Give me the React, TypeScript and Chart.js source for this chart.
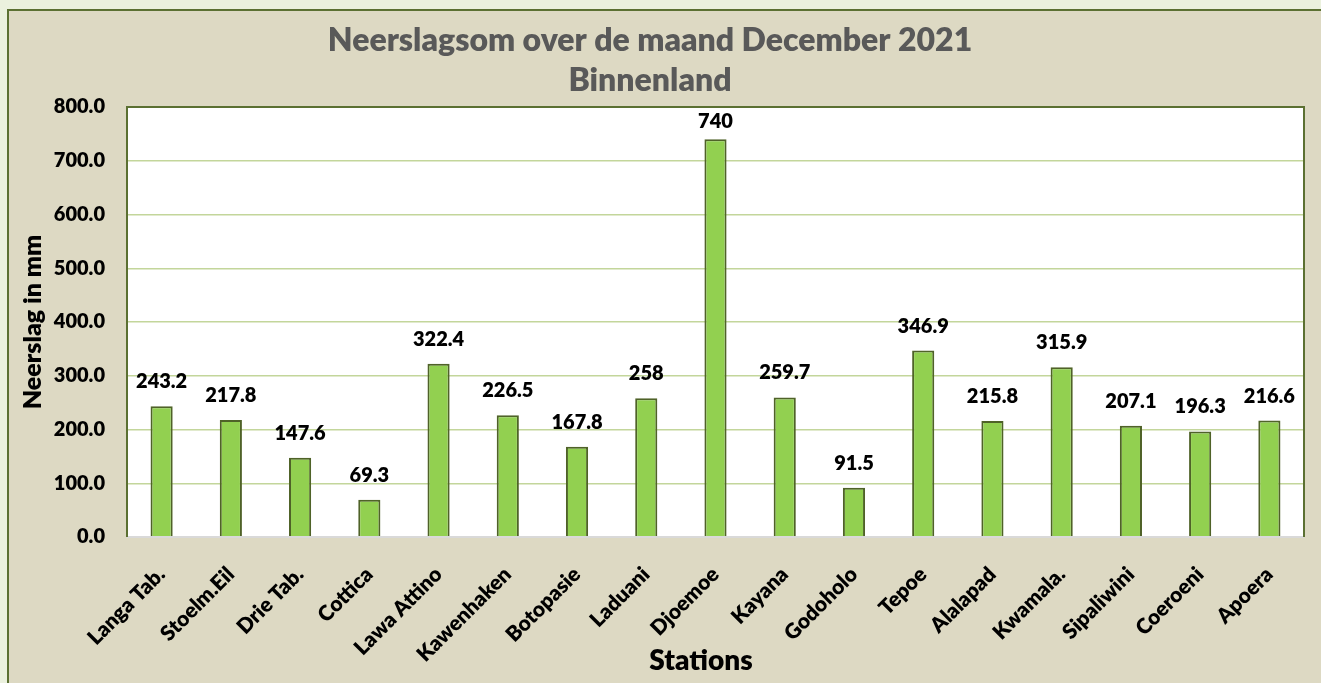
import React, { useEffect, useRef } from "react";
import { Chart, registerables } from "chart.js";

Chart.register(...registerables);

const stations = [
  "Langa Tab.", "Stoelm.Eil", "Drie Tab.", "Cottica", "Lawa Attino", "Kawenhaken",
  "Botopasie", "Laduani", "Djoemoe", "Kayana", "Godoholo", "Tepoe", "Alalapad",
  "Kwamala.", "Sipaliwini", "Coeroeni", "Apoera",
];
const rainfall = [243.2, 217.8, 147.6, 69.3, 322.4, 226.5, 167.8, 258, 740, 259.7, 91.5, 346.9, 215.8, 315.9, 207.1, 196.3, 216.6];
const valueLabels = ["243.2", "217.8", "147.6", "69.3", "322.4", "226.5", "167.8", "258", "740", "259.7", "91.5", "346.9", "215.8", "315.9", "207.1", "196.3", "216.6"];
const titleLines = ["Neerslagsom over de maand December 2021", "Binnenland"];
const yTitle = "Neerslag in mm";
const xTitle = "Stations";

const FONT = "Lato";
const W = "800";

const plotBgPlugin = {
  id: "plotBg",
  beforeDraw(chart: any) {
    const { ctx, chartArea } = chart;
    ctx.save();
    ctx.fillStyle = "#ffffff";
    ctx.fillRect(chartArea.left, chartArea.top, chartArea.right - chartArea.left, chartArea.bottom - chartArea.top);
    ctx.restore();
  },
  afterDatasetsDraw(chart: any) {
    const { ctx, chartArea } = chart;
    const { left, right, top, bottom } = chartArea;
    ctx.save();
    ctx.lineWidth = 2;
    ctx.strokeStyle = "#d9d9d9";
    ctx.beginPath();
    ctx.moveTo(left, bottom);
    ctx.lineTo(right, bottom);
    ctx.stroke();
    ctx.strokeStyle = "#5b7032";
    ctx.beginPath();
    ctx.moveTo(left, bottom);
    ctx.lineTo(left, top);
    ctx.lineTo(right, top);
    ctx.lineTo(right, bottom);
    ctx.stroke();
    // value labels
    const meta = chart.getDatasetMeta(0);
    ctx.fillStyle = "#000000";
    ctx.font = `${W} 20px ${FONT}`;
    ctx.textAlign = "center";
    ctx.textBaseline = "alphabetic";
    meta.data.forEach((bar: any, i: number) => {
      const y = Math.max(bar.y - 18, top + 21);
      ctx.fillText(valueLabels[i], bar.x, y);
    });
    ctx.restore();
  },
  afterDraw(chart: any) {
    const { ctx } = chart;
    ctx.save();
    ctx.fillStyle = "#595959";
    ctx.font = `${W} 32px ${FONT}`;
    ctx.textAlign = "center";
    ctx.textBaseline = "alphabetic";
    ctx.fillText(titleLines[0], 650, 51);
    ctx.fillText(titleLines[1], 650, 91);
    ctx.fillStyle = "#000000";
    ctx.font = `${W} 28px ${FONT}`;
    ctx.fillText(xTitle, 701, 670);
    ctx.restore();
  },
};

export default function App() {
  const canvasRef = useRef<HTMLCanvasElement | null>(null);

  useEffect(() => {
    const canvas = canvasRef.current;
    if (!canvas) return;
    const chart = new Chart(canvas, {
      type: "bar",
      data: {
        labels: stations,
        datasets: [
          {
            data: rainfall,
            backgroundColor: "#92d050",
            borderColor: "#4f6228",
            borderWidth: 2,
            barPercentage: 0.32,
            categoryPercentage: 1,
          },
        ],
      },
      options: {
        responsive: false,
        animation: false,
        devicePixelRatio: 1,
        layout: { padding: { top: 107, right: 17, left: 0, bottom: 0 } },
        plugins: {
          legend: { display: false },
          tooltip: { enabled: false },
          title: { display: false },
        },
        scales: {
          y: {
            min: 0,
            max: 800,
            ticks: {
              stepSize: 100,
              color: "#000000",
              font: { family: FONT, weight: W, size: 20 },
              padding: 22,
              callback: (v: any) => Number(v).toFixed(1),
            },
            grid: { color: "#c3d69b", lineWidth: 1.5, drawTicks: false },
            border: { display: false },
            title: {
              display: true,
              text: yTitle,
              color: "#000000",
              font: { family: FONT, weight: W, size: 25 },
              padding: { top: 18, bottom: 0 },
            },
            afterFit: (scale: any) => {
              scale.width = 127;
            },
          },
          x: {
            grid: { display: false },
            border: { display: false },
            ticks: {
              color: "#000000",
              font: { family: FONT, weight: W, size: 21 },
              maxRotation: 45,
              minRotation: 45,
              autoSkip: false,
              padding: 17,
            },
            afterFit: (scale: any) => {
              scale.height = 146;
            },
          },
        },
      },
      plugins: [plotBgPlugin],
    });
    return () => chart.destroy();
  }, []);

  return (
    <div style={{ position: "fixed", left: 0, top: 0, width: 1321, height: 683, background: "#ebf1de", overflow: "hidden" }}>
      <div
        style={{
          position: "absolute",
          left: 7,
          top: 9,
          width: 1400,
          height: 800,
          background: "#ddd9c3",
          border: "2px solid #5b7032",
          boxSizing: "border-box",
        }}
      />
      <canvas ref={canvasRef} width={1321} height={683} style={{ position: "absolute", left: 0, top: 0, width: 1321, height: 683 }} />
    </div>
  );
}
